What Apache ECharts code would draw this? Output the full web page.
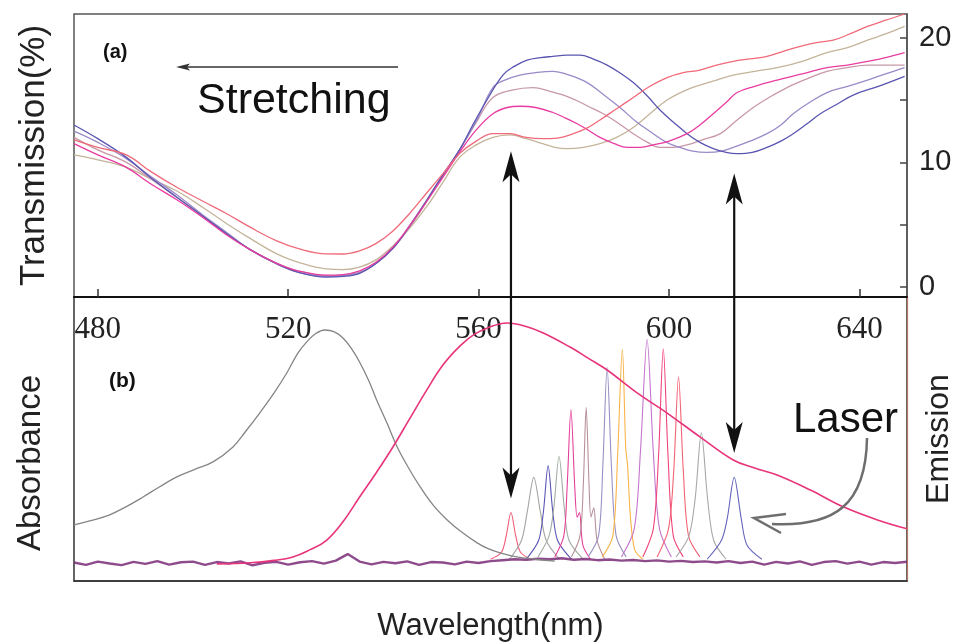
<!DOCTYPE html>
<html>
<head>
<meta charset="utf-8">
<script src="https://cdn.jsdelivr.net/npm/echarts@6/dist/echarts.min.js"></script>
<style>
  html, body { margin: 0; padding: 0; background: #fff; }
  #chart { width: 964px; height: 644px; }
</style>
</head>
<body>
<div id="chart"></div>
<script>
// ---- tick labels ----
const wavelengthTicks = [480, 520, 560, 600, 640];
const transTicks = [0, 5, 10, 15, 20];
const transLabels = [0, 10, 20];

// ---- (a) transmission spectra, [nm, %] ----
const transRed = [[475,11.8],[480,11.2],[486,10.6],[491,9.3],[496.6,8.0],[502,6.9],[507,5.9],[512,4.8],[517.6,3.7],[522,3.1],[528,2.66],[531.5,2.65],[535,2.9],[538.5,3.5],[542,4.5],[545.5,5.9],[549,7.5],[552.5,9.1],[556,10.7],[559.5,11.7],[563,12.3],[566.6,12.3],[570,12.0],[573.5,11.9],[576.5,11.95],[579.2,12.2],[582.5,12.7],[585.5,13.4],[589,14.3],[592.5,15.2],[596,16.1],[599.6,16.8],[603,17.2],[606.5,17.4],[610,17.8],[613.5,18.1],[617,18.3],[620.6,18.5],[624,18.9],[627.6,19.3],[631,19.6],[634.5,19.8],[638,20.3],[641.7,20.9],[645.5,21.4],[649.5,21.9]];
const transBeige = [[475,10.6],[480,10.2],[486,9.6],[491,8.7],[496.6,7.7],[502,6.4],[507,5.1],[512,3.9],[517.6,2.66],[522,2.0],[528,1.45],[531.5,1.4],[535,1.6],[538.5,2.2],[542,3.3],[545.5,4.7],[549,6.4],[552.5,8.4],[556,10.4],[559.5,11.4],[563,12.0],[566.6,12.2],[570,11.9],[573.5,11.5],[576,11.2],[578.6,11.1],[582,11.2],[585.5,11.5],[589,12.0],[592.5,12.8],[596,13.9],[599.6,15.0],[603,15.7],[606.5,16.2],[610,16.6],[613.5,17.0],[618,17.3],[622.7,17.6],[628,18.1],[633.2,18.8],[637.5,19.2],[641.7,19.8],[645.5,20.3],[649.5,20.9]];
const transMagenta = [[475,11.5],[480,10.6],[486,9.6],[491,8.3],[496.6,7.0],[502,5.6],[507,4.2],[512,3.0],[517.6,1.9],[522,1.3],[528,0.95],[531.5,1.0],[535,1.3],[538.5,2.0],[542,3.2],[545.5,4.9],[549,6.8],[552.5,8.8],[556,10.8],[559.5,12.6],[563,13.9],[566,14.4],[568.7,14.5],[572,14.4],[575.6,14.0],[578,13.6],[580.7,13.1],[583,12.6],[585.5,12.0],[588.5,11.5],[591.2,11.2],[594,11.2],[596.7,11.4],[600,11.7],[603.8,12.3],[606.5,13.0],[609.3,13.9],[612,14.8],[614.3,15.6],[618,16.1],[622.7,16.6],[628,17.1],[633.2,17.6],[637.5,17.8],[641.7,18.1],[645.5,18.4],[649.5,18.8]];
const transMauve = [[475,12.0],[480,11.0],[486,10.0],[491,8.7],[496.6,7.2],[502,5.7],[507,4.3],[512,3.0],[517.6,1.9],[522,1.3],[528,0.9],[531.5,0.95],[535,1.2],[538.5,1.9],[542,3.1],[545.5,4.8],[549,6.8],[552.5,8.9],[556,11.0],[559.5,13.2],[563,15.2],[567,15.8],[571.4,16.0],[575,15.7],[579.2,15.2],[583,14.5],[586.2,13.9],[589.5,13.1],[592.5,12.3],[595.5,11.6],[598.1,11.2],[601,11.2],[603.8,11.4],[607,11.8],[610.8,12.3],[614,13.3],[617.7,14.4],[621,15.2],[624.8,16.0],[629,16.7],[633.2,17.3],[637.5,17.6],[641.7,17.8],[645.5,17.8],[649.5,17.8]];
const transLavender = [[475,12.5],[480,11.6],[486,10.3],[491,8.9],[496.6,7.4],[502,5.8],[507,4.4],[512,3.0],[517.6,1.9],[522,1.2],[528,0.85],[531.5,0.9],[535,1.15],[538.5,1.9],[542,3.1],[545.5,4.9],[549,6.9],[552.5,9.0],[556,11.0],[559.5,13.3],[563,16.0],[565.5,16.6],[568.7,17.0],[572,17.2],[575.6,17.3],[579,17.0],[582.8,16.4],[586,15.5],[589.7,14.4],[593,13.3],[596.7,12.3],[599.5,11.6],[602.3,11.2],[605,10.9],[608,10.8],[611,10.9],[613.5,11.2],[617,11.7],[620.6,12.3],[623.5,13.0],[626.1,13.9],[629.5,14.8],[633.2,15.6],[637.5,16.1],[641.7,16.6],[645.5,17.1],[649.5,17.6]];
const transNavy = [[475,13.0],[480,11.9],[486,10.4],[491,8.8],[496.6,7.2],[502,5.7],[507,4.3],[512,3.0],[517.6,1.85],[522,1.2],[528,0.8],[531.5,0.85],[535,1.1],[538.5,1.9],[542,3.1],[545.5,4.9],[549,6.9],[552.5,9.0],[556,11.0],[558.5,12.8],[561.6,14.9],[565.1,17.0],[567.5,17.7],[570.2,18.2],[573,18.4],[575.6,18.5],[578.5,18.6],[581.3,18.6],[584,18.3],[587,17.8],[590,17.1],[592.5,16.4],[595.5,15.3],[598.1,14.2],[601,13.2],[603.8,12.3],[606.5,11.6],[609.3,11.1],[612,10.8],[614.3,10.7],[617.5,10.8],[620.6,11.2],[623.5,11.7],[626.1,12.3],[629,13.1],[631.8,13.9],[635,14.6],[638.7,15.4],[644,16.1],[649.5,16.9]];

// ---- (b) absorbance / emission, normalised ----
const absorbance = [[475,0.167],[478.5,0.185],[482.5,0.21],[486,0.245],[489.5,0.286],[493,0.33],[496.6,0.372],[500.5,0.405],[504.2,0.436],[508.4,0.5],[511,0.565],[514,0.645],[517,0.73],[519.7,0.816],[522,0.9],[523.9,0.949],[525.8,0.985],[527.7,1.0],[529.6,0.993],[531.5,0.966],[533.3,0.92],[535.1,0.859],[537,0.78],[538.6,0.70],[540.8,0.6],[542.9,0.50],[545.3,0.41],[547.7,0.33],[550.5,0.25],[553.4,0.188],[556.5,0.135],[559.7,0.09],[562,0.065],[564.5,0.047],[568,0.03],[572,0.02],[576,0.012]];
const emission = [[505,0.0],[512,0.005],[517,0.015],[521,0.03],[524.5,0.06],[528,0.1],[531.5,0.18],[535,0.286],[538.5,0.39],[542,0.5],[545.5,0.62],[549,0.74],[552.5,0.85],[556,0.93],[559,0.98],[562,1.01],[566,1.03],[570,1.015],[573.6,0.987],[579.2,0.927],[583,0.88],[587,0.829],[593.3,0.731],[599.6,0.645],[606.5,0.543],[613.5,0.444],[618,0.41],[622.7,0.38],[629.7,0.316],[636.6,0.244],[643.8,0.188],[650,0.15]];

// ---- laser lines ----
const laserColors = ['#f25a78','#a4a4a4','#5a55b4','#a2aca2','#e4409a','#b8909a','#9a90c4','#f8b448','#c474cc','#f04478','#f26474','#a8a8a8','#6464bc'];
const laserPeaks = [
  [[562.5,0.02],[564.8,0.05],[565.8,0.12],[566.8,0.22],[567.8,0.12],[568.8,0.05],[571,0.02]],
  [[566.5,0.02],[569,0.1],[570.2,0.22],[571.6,0.37],[573,0.22],[574.2,0.1],[577,0.02]],
  [[570,0.02],[572.6,0.1],[573.6,0.22],[574.6,0.42],[575.6,0.22],[576.6,0.1],[579.5,0.02]],
  [[572.5,0.03],[574.8,0.12],[575.8,0.24],[576.9,0.46],[578,0.24],[579,0.1],[582,0.02]],
  [[576,0.03],[577.9,0.12],[578.6,0.33],[579.4,0.66],[580.2,0.33],[580.7,0.2],[581.2,0.22],[581.9,0.08],[583.5,0.02]],
  [[579.5,0.03],[581.3,0.12],[582,0.34],[582.6,0.67],[583.2,0.34],[583.6,0.2],[584.2,0.24],[584.9,0.1],[586.5,0.02]],
  [[583,0.03],[585.2,0.12],[586.1,0.42],[587,0.84],[587.9,0.42],[588.9,0.12],[591,0.03]],
  [[586,0.03],[588.2,0.12],[589.2,0.46],[590.2,0.92],[590.9,0.5],[591.3,0.42],[591.9,0.2],[592.8,0.06],[594.5,0.02]],
  [[590,0.03],[592.7,0.15],[594,0.48],[595.4,0.96],[596.7,0.48],[598,0.15],[600.5,0.03]],
  [[594.5,0.03],[596.7,0.15],[597.8,0.46],[598.8,0.92],[599.8,0.46],[600.9,0.12],[603,0.03]],
  [[597.5,0.03],[599.9,0.15],[601,0.4],[602,0.8],[603,0.4],[604.1,0.12],[606.5,0.03]],
  [[601.5,0.03],[604.2,0.12],[605.5,0.28],[606.8,0.56],[608.1,0.28],[609.4,0.1],[612,0.02]],
  [[608,0.02],[611,0.1],[612.2,0.19],[613.7,0.37],[615.2,0.19],[616.4,0.08],[619.5,0.02]]
];

// noisy baseline of the laser spectra, every 2.5 nm from 475
const baselineStart = 475, baselineStep = 2.5;
const baselineNoise = [0.006,-0.004,0.010,0.002,-0.005,0.009,0.000,0.012,-0.003,0.007,0.010,-0.004,0.008,0.002,0.011,-0.006,0.005,0.009,-0.003,0.007,0.012,0.001,0.014,0.042,0.010,-0.002,0.009,0.003,0.011,-0.004,0.008,0.006,-0.002,0.010,0.004,0.012,0.016,0.020,0.018,0.022,0.020,0.024,0.018,0.021,0.016,0.019,0.014,0.017,0.012,0.015,0.010,0.013,0.008,0.011,0.006,0.012,0.004,0.010,-0.003,0.009,0.002,0.011,-0.004,0.008,0.012,0.001,0.010,-0.003,0.008,0.004,0.009];

// annotation arrows: wavelength, tip in (a) [%], tip in (b)
const guideArrows = [
  { wl: 566.8, topTip: 10.9, bottomTip: 0.28 },
  { wl: 613.7, topTip: 9.1, bottomTip: 0.474 }
];

const sans = "'Liberation Sans', Arial, sans-serif";
const chart = echarts.init(document.getElementById('chart'), null, { renderer: 'canvas' });

function transSeries(data, color) {
  return {
    type: 'line', xAxisIndex: 0, yAxisIndex: 0, data: data,
    showSymbol: false, smooth: 0.4, silent: true,
    lineStyle: { color: color, width: 1.3 }
  };
}

const series = [
  transSeries(transBeige, '#c4b49a'),
  transSeries(transMauve, '#c898a8'),
  transSeries(transLavender, '#9a8ac8'),
  transSeries(transNavy, '#5a55b0'),
  transSeries(transMagenta, '#e83ca0'),
  transSeries(transRed, '#f06a7a'),
];

laserPeaks.forEach((pk, i) => {
  series.push({
    type: 'line', xAxisIndex: 1, yAxisIndex: 2, data: pk,
    showSymbol: false, smooth: 0.3, silent: true,
    lineStyle: { color: laserColors[i], width: 1.1 }
  });
});

series.push({
  type: 'line', xAxisIndex: 1, yAxisIndex: 2,
  data: baselineNoise.map((v, i) => [baselineStart + i * baselineStep, v]),
  showSymbol: false, silent: true,
  lineStyle: { color: '#7a2c78', width: 2.4, opacity: 0.85 }
});
series.push({
  type: 'line', xAxisIndex: 1, yAxisIndex: 2, data: absorbance,
  showSymbol: false, smooth: 0.4, silent: true,
  lineStyle: { color: '#858585', width: 1.3 }
});
series.push({
  type: 'line', xAxisIndex: 1, yAxisIndex: 2, data: emission,
  showSymbol: false, smooth: 0.4, silent: true,
  lineStyle: { color: '#e8347a', width: 1.6 }
});

const option = {
  animation: false,
  backgroundColor: '#fff',
  grid: [
    { left: 74, right: 57, top: 14, height: 283, show: true, borderColor: '#555', borderWidth: 1.5 },
    { left: 74, right: 57, top: 297, height: 284, show: true, borderColor: '#333', borderWidth: 1.5 }
  ],
  xAxis: [
    { gridIndex: 0, type: 'value', min: 475, max: 650, position: 'bottom',
      axisLine: { show: true, onZero: false, lineStyle: { color: '#111', width: 2 } },
      axisTick: { show: true, inside: true, length: 8, customValues: wavelengthTicks, lineStyle: { color: '#333', width: 1.5 } },
      axisLabel: { show: false }, splitLine: { show: false } },
    { gridIndex: 1, type: 'value', min: 475, max: 650, position: 'top',
      axisLine: { show: false, onZero: false }, axisTick: { show: false },
      axisLabel: { inside: true, customValues: wavelengthTicks, margin: 17, fontFamily: "'Liberation Serif', 'Times New Roman', serif", fontSize: 31, color: '#222' },
      splitLine: { show: false } },
    { gridIndex: 1, type: 'value', min: 475, max: 650, position: 'bottom',
      axisLine: { show: true, onZero: false, lineStyle: { color: '#333', width: 1.5 } },
      axisTick: { show: false }, axisLabel: { show: false }, splitLine: { show: false },
      name: 'Wavelength(nm)', nameLocation: 'middle', nameGap: 30,
      nameTextStyle: { fontFamily: sans, fontSize: 31, color: '#222', verticalAlign: 'top' } }
  ],
  yAxis: [
    { gridIndex: 0, type: 'value', min: -0.8, max: 21.9, position: 'left',
      axisLine: { show: false, onZero: false }, axisTick: { show: false }, axisLabel: { show: false }, splitLine: { show: false },
      name: 'Transmission(%)', nameLocation: 'middle', nameRotate: 90, nameGap: 22,
      nameTextStyle: { fontFamily: sans, fontSize: 35, color: '#222' } },
    { gridIndex: 0, type: 'value', min: -0.8, max: 21.9, position: 'right',
      axisLine: { show: true, onZero: false, lineStyle: { color: '#555', width: 1.5 } },
      axisTick: { show: true, inside: true, length: 7, customValues: transTicks, lineStyle: { color: '#444', width: 1.5 } },
      axisLabel: { customValues: transLabels, margin: 12, fontFamily: sans, fontSize: 29, color: '#222' },
      splitLine: { show: false } },
    { gridIndex: 1, type: 'value', min: -0.073, max: 1.141, position: 'left',
      axisLine: { show: false, onZero: false }, axisTick: { show: false }, axisLabel: { show: false }, splitLine: { show: false } },
    { gridIndex: 1, type: 'value', min: -0.073, max: 1.141, position: 'right',
      axisLine: { show: true, onZero: false, lineStyle: { color: '#b87868', width: 1.2 } },
      axisTick: { show: false }, axisLabel: { show: false }, splitLine: { show: false },
      name: 'Emission', nameLocation: 'middle', nameRotate: 90, nameGap: 16,
      nameTextStyle: { fontFamily: sans, fontSize: 32, color: '#222' } }
  ],
  series: series
};
chart.setOption(option);

// ---- annotations ----
const graphics = [];
guideArrows.forEach(a => {
  const top = chart.convertToPixel({ xAxisIndex: 0, yAxisIndex: 0 }, [a.wl, a.topTip]);
  const bot = chart.convertToPixel({ xAxisIndex: 1, yAxisIndex: 2 }, [a.wl, a.bottomTip]);
  const x = top[0], t = top[1], b = bot[1];
  graphics.push({ type: 'line', shape: { x1: x, y1: t + 20, x2: x, y2: b - 20 }, style: { stroke: '#111', lineWidth: 2.2 }, z: 100 });
  graphics.push({ type: 'polygon', shape: { points: [[x, t], [x - 8.5, t + 31], [x, t + 23], [x + 8.5, t + 31]] }, style: { fill: '#111' }, z: 100 });
  graphics.push({ type: 'polygon', shape: { points: [[x, b], [x - 8.5, b - 31], [x, b - 23], [x + 8.5, b - 31]] }, style: { fill: '#111' }, z: 100 });
});

// y label of (b), sits below the panel centre in the original
graphics.push({ type: 'text', x: 31, y: 463, rotation: Math.PI / 2,
  style: { text: 'Absorbance', font: '33px ' + sans, fill: '#222', align: 'center', verticalAlign: 'middle' }, z: 100 });

// stretching arrow + labels
graphics.push({ type: 'line', shape: { x1: 398, y1: 67, x2: 186, y2: 67 }, style: { stroke: '#333', lineWidth: 1.5 }, z: 100 });
graphics.push({ type: 'polygon', shape: { points: [[176, 67], [190, 63.5], [187, 67], [190, 70.5]] }, style: { fill: '#333' }, z: 100 });
graphics.push({ type: 'text', x: 103, y: 52, style: { text: '(a)', font: 'bold 20px ' + sans, fill: '#111', verticalAlign: 'middle' }, z: 100 });
graphics.push({ type: 'text', x: 197, y: 101, style: { text: 'Stretching', font: '43px ' + sans, fill: '#111', verticalAlign: 'middle' }, z: 100 });
graphics.push({ type: 'text', x: 109, y: 381, style: { text: '(b)', font: 'bold 21px ' + sans, fill: '#111', verticalAlign: 'middle' }, z: 100 });
graphics.push({ type: 'text', x: 793, y: 420, style: { text: 'Laser', font: '42px ' + sans, fill: '#111', verticalAlign: 'middle' }, z: 100 });

// curved "Laser" pointer
graphics.push({ type: 'bezierCurve', shape: { x1: 867, y1: 438, cpx1: 866, cpy1: 505, cpx2: 835, cpy2: 527, x2: 772, y2: 524 }, style: { stroke: '#6e6e6e', lineWidth: 2.5, fill: null }, z: 100 });
graphics.push({ type: 'polyline', shape: { points: [[786, 514], [754, 518], [781, 533]] }, style: { stroke: '#6e6e6e', lineWidth: 2.5, fill: null }, z: 100 });

chart.setOption({ graphic: graphics });
</script>
</body>
</html>
